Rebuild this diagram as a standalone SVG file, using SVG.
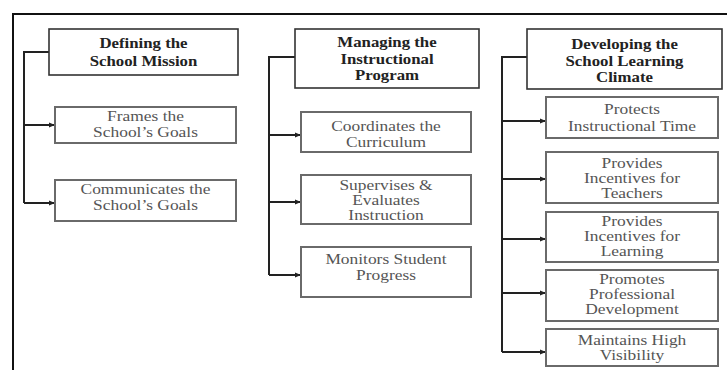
<svg xmlns="http://www.w3.org/2000/svg" width="727" height="370" viewBox="0 0 727 370">
<style>
.hdr rect{fill:#fff;stroke:#333;stroke-width:1.6}
.kid rect{fill:#fff;stroke:#6a6a6a;stroke-width:2}
.hdr text{font-family:"Liberation Serif","Times New Roman",serif;font-size:15px;font-weight:bold;fill:#222;text-anchor:middle}
.kid text{font-family:"Liberation Serif","Times New Roman",serif;font-size:14.5px;fill:#555;text-anchor:middle}
.conn path{fill:none;stroke:#222;stroke-width:2}
</style>
<defs>
<marker id="ah" markerWidth="6" markerHeight="6" refX="5" refY="3" orient="auto" markerUnits="userSpaceOnUse">
<path d="M0,0.5 L6,3 L0,5.5 Z" fill="#222"/>
</marker>
</defs>
<rect width="727" height="370" fill="#fff"/>
<path d="M13,370 V14 H727" fill="none" stroke="#111" stroke-width="2"/>

<g class="conn">
<path d="M49,52 H24 V203"/>
<path d="M24,125 H54" marker-end="url(#ah)"/>
<path d="M24,203 H54" marker-end="url(#ah)"/>
<path d="M295,57 H269 V275"/>
<path d="M269,135 H300" marker-end="url(#ah)"/>
<path d="M269,202 H300" marker-end="url(#ah)"/>
<path d="M269,275 H300" marker-end="url(#ah)"/>
<path d="M527,57 H502 V352"/>
<path d="M502,121 H545" marker-end="url(#ah)"/>
<path d="M502,179 H545" marker-end="url(#ah)"/>
<path d="M502,239 H545" marker-end="url(#ah)"/>
<path d="M502,293 H545" marker-end="url(#ah)"/>
<path d="M502,352 H545" marker-end="url(#ah)"/>
</g>

<g id="defining" class="hdr"><rect x="49" y="29" width="189" height="46"/>
<g transform="translate(143.5 0) scale(1.12 1)"><text x="0" y="48">Defining the</text><text x="0" y="66">School Mission</text></g></g>
<g id="frames" class="kid"><rect x="55" y="107" width="181" height="36"/>
<g transform="translate(145.5 0) scale(1.2 1)"><text x="0" y="121">Frames the</text><text x="0" y="137">School’s Goals</text></g></g>
<g id="communicates" class="kid"><rect x="55" y="180" width="181" height="41"/>
<g transform="translate(145.5 0) scale(1.2 1)"><text x="0" y="194">Communicates the</text><text x="0" y="210">School’s Goals</text></g></g>

<g id="managing" class="hdr"><rect x="295" y="29" width="184" height="59"/>
<g transform="translate(387 0) scale(1.12 1)"><text x="0" y="47">Managing the</text><text x="0" y="64">Instructional</text><text x="0" y="80">Program</text></g></g>
<g id="coordinates" class="kid"><rect x="301" y="112" width="170" height="40"/>
<g transform="translate(386 0) scale(1.2 1)"><text x="0" y="131">Coordinates the</text><text x="0" y="147">Curriculum</text></g></g>
<g id="supervises" class="kid"><rect x="301" y="175" width="170" height="49"/>
<g transform="translate(386 0) scale(1.2 1)"><text x="0" y="190">Supervises &amp;</text><text x="0" y="205">Evaluates</text><text x="0" y="220">Instruction</text></g></g>
<g id="monitors" class="kid"><rect x="301" y="247" width="170" height="50"/>
<g transform="translate(386 0) scale(1.2 1)"><text x="0" y="264">Monitors Student</text><text x="0" y="280">Progress</text></g></g>

<g id="developing" class="hdr"><rect x="527" y="29" width="195" height="60"/>
<g transform="translate(624.5 0) scale(1.12 1)"><text x="0" y="49">Developing the</text><text x="0" y="66">School Learning</text><text x="0" y="82">Climate</text></g></g>
<g id="protects" class="kid"><rect x="546" y="97" width="172" height="41"/>
<g transform="translate(632 0) scale(1.2 1)"><text x="0" y="114">Protects</text><text x="0" y="131">Instructional Time</text></g></g>
<g id="teachers" class="kid"><rect x="546" y="152" width="172" height="51"/>
<g transform="translate(632 0) scale(1.2 1)"><text x="0" y="168">Provides</text><text x="0" y="183">Incentives for</text><text x="0" y="198">Teachers</text></g></g>
<g id="learning" class="kid"><rect x="546" y="212" width="172" height="50"/>
<g transform="translate(632 0) scale(1.2 1)"><text x="0" y="226">Provides</text><text x="0" y="241">Incentives for</text><text x="0" y="256">Learning</text></g></g>
<g id="promotes" class="kid"><rect x="546" y="270" width="172" height="51"/>
<g transform="translate(632 0) scale(1.2 1)"><text x="0" y="284">Promotes</text><text x="0" y="299">Professional</text><text x="0" y="314">Development</text></g></g>
<g id="maintains" class="kid"><rect x="546" y="329" width="172" height="37"/>
<g transform="translate(632 0) scale(1.2 1)"><text x="0" y="345">Maintains High</text><text x="0" y="360">Visibility</text></g></g>
</svg>
